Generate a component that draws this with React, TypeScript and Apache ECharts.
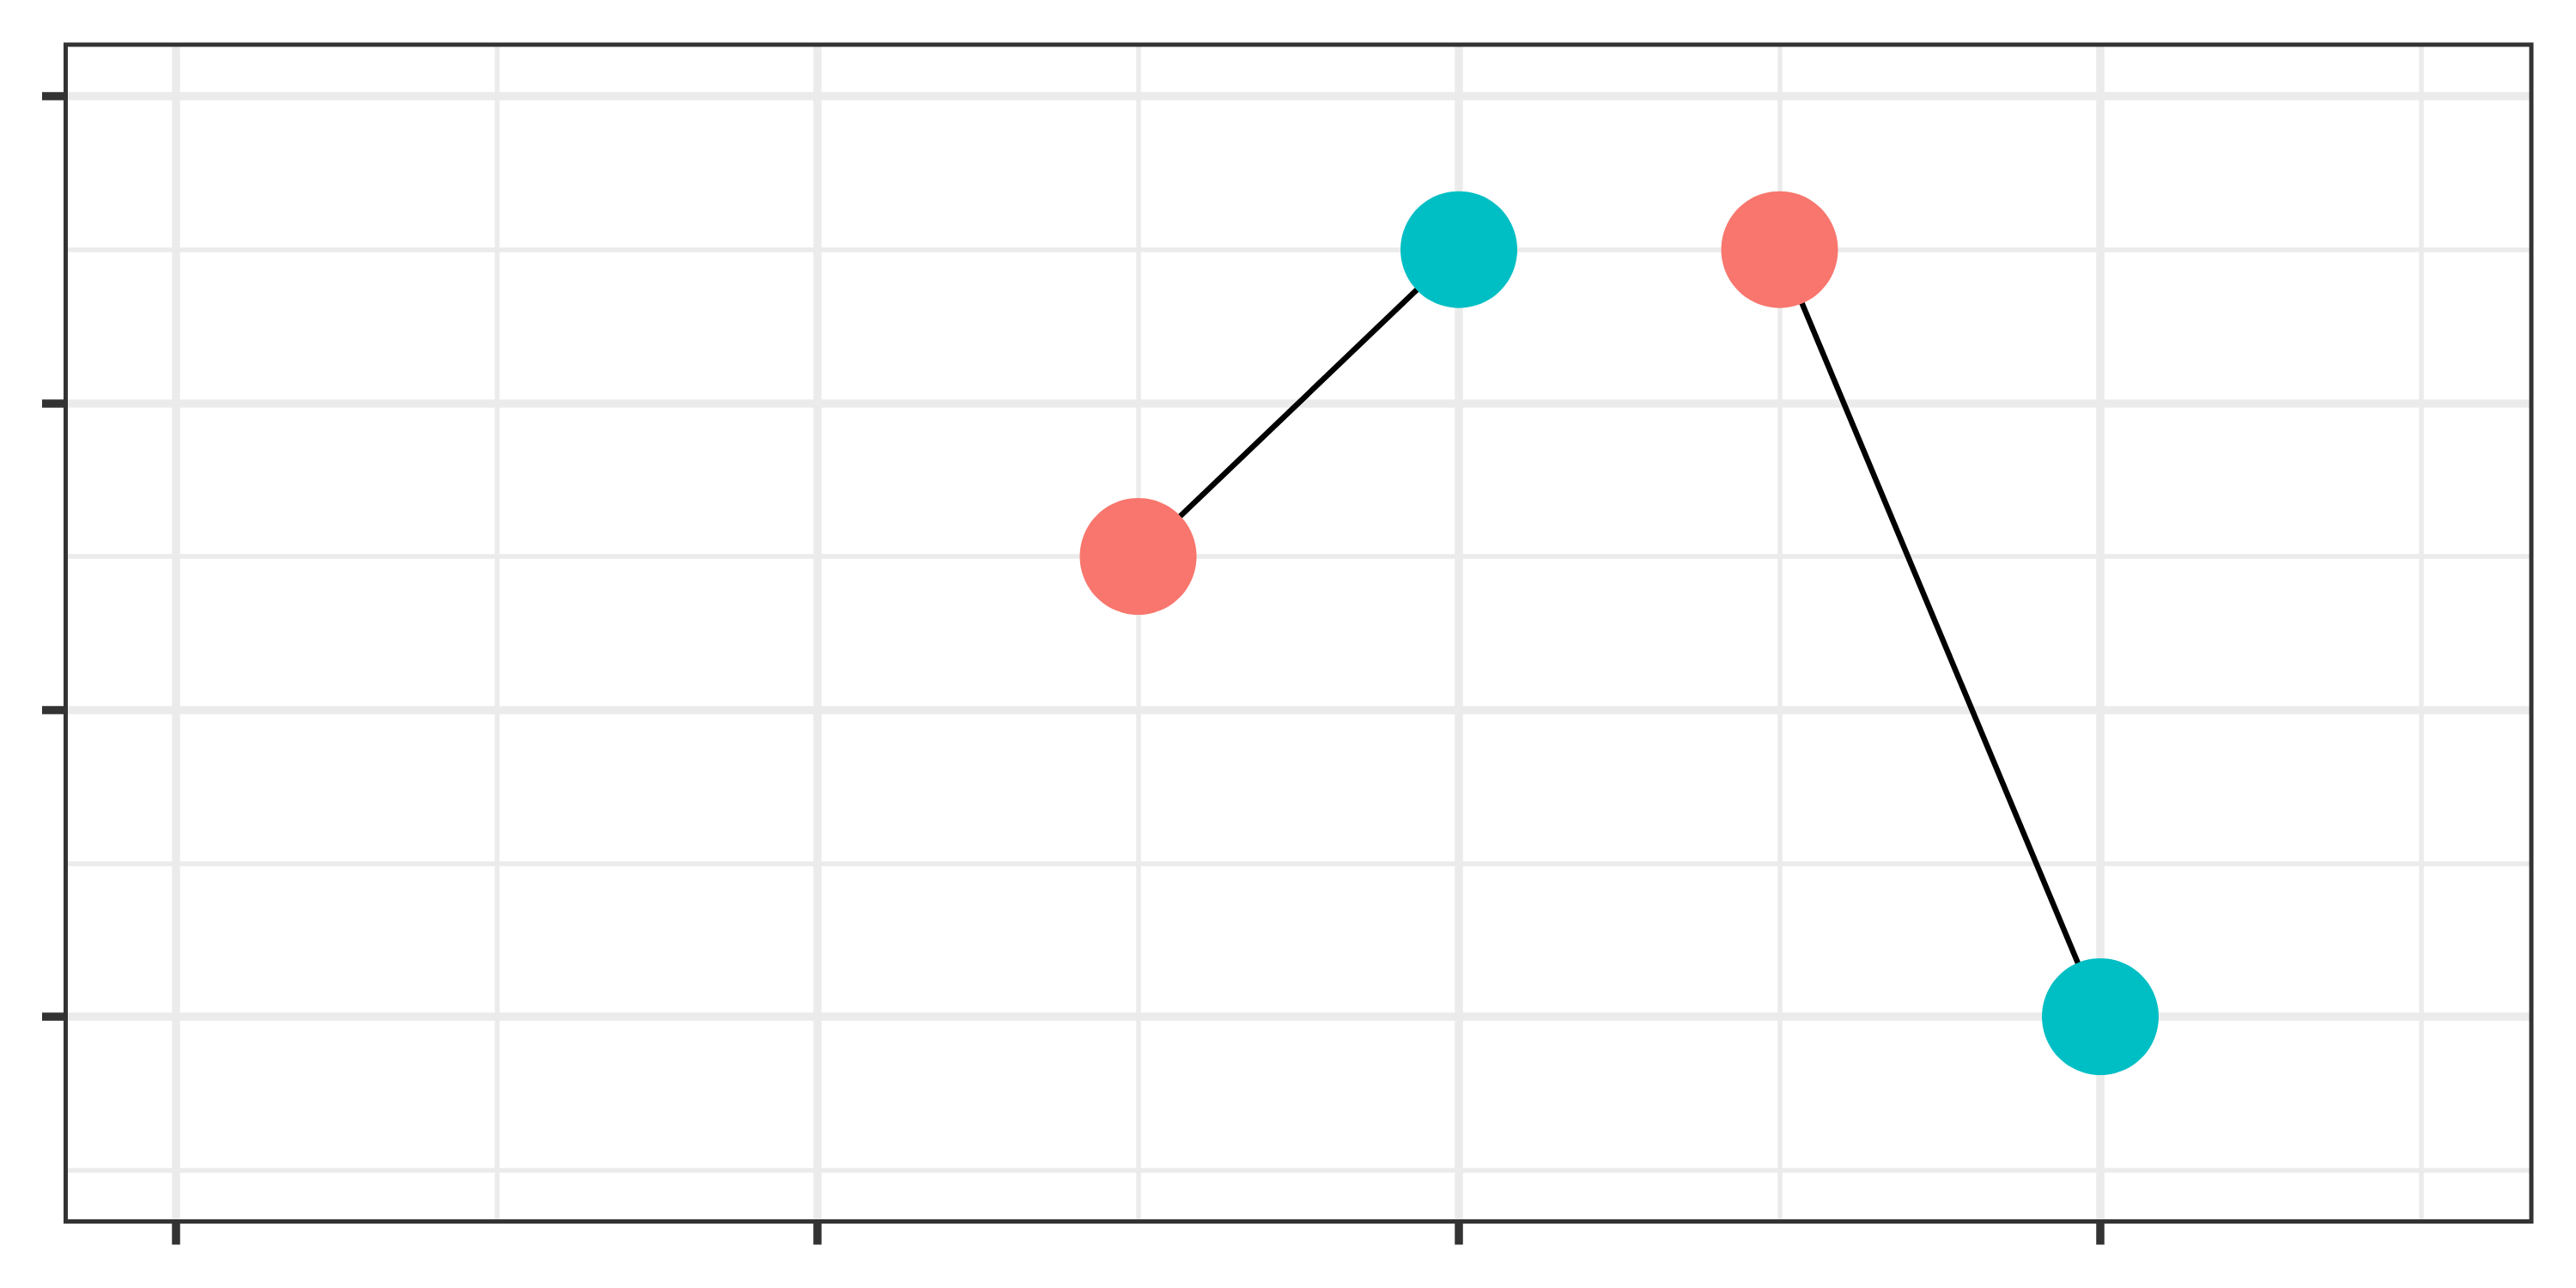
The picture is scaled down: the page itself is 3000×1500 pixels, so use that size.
import React, { useEffect, useRef } from "react";
import * as echarts from "echarts";

// Axis tick / grid values
const xMajor = [0, 1, 2, 3];
const xMinor = [0.5, 1.5, 2.5, 3.5];
const yMajor = [0, 1, 2, 3];
const yMinor = [-0.5, 0.5, 1.5, 2.5];

// Data: each segment goes from a red start point to a teal end point
const startPoints = [
  [1.5, 1.5],
  [2.5, 2.5],
];
const endPoints = [
  [2, 2.5],
  [3, 0],
];

const X_MIN = -0.172;
const X_MAX = 3.672;
const Y_MIN = -0.6675;
const Y_MAX = 3.168;

const RED = "#F8766D";
const TEAL = "#00BFC4";

export default function App() {
  const ref = useRef<HTMLDivElement>(null);

  useEffect(() => {
    if (!ref.current) return;
    const chart = echarts.init(ref.current, undefined, { renderer: "svg" });
    const gridLeft = 76.5;
    const gridTop = 52;
    const gridRight = 52;
    const gridBottom = 77.5;
    const W = 3000;
    const H = 1500;

    const minorStyle = { color: "#EBEBEB", width: 5.5, type: "solid" };
    const majorStyle = { color: "#EBEBEB", width: 9.5, type: "solid" };

    const gridLineData: any[] = [
      ...xMinor.map((v) => ({ xAxis: v, lineStyle: minorStyle })),
      ...yMinor.map((v) => ({ yAxis: v, lineStyle: minorStyle })),
      ...xMajor.map((v) => ({ xAxis: v, lineStyle: majorStyle })),
      ...yMajor.map((v) => ({ yAxis: v, lineStyle: majorStyle })),
    ];

    const segmentSeries = startPoints.map((s, i) => ({
      type: "line",
      data: [s, endPoints[i]],
      symbol: "none",
      lineStyle: { color: "#000000", width: 6.5 },
      z: 3,
      silent: true,
    }));

    chart.setOption({
      animation: false,
      backgroundColor: "#FFFFFF",
      grid: {
        left: gridLeft,
        top: gridTop,
        right: gridRight,
        bottom: gridBottom,
        containLabel: false,
      },
      xAxis: {
        type: "value",
        min: X_MIN,
        max: X_MAX,
        z: 50,
        axisLine: { show: false, onZero: false },
        axisLabel: { show: false },
        splitLine: { show: false },
        axisTick: {
          show: true,
          length: 27,
          customValues: xMajor,
          lineStyle: { color: "#333333", width: 9.5 },
        },
      },
      yAxis: {
        type: "value",
        min: Y_MIN,
        max: Y_MAX,
        z: 50,
        axisLine: { show: false, onZero: false },
        axisLabel: { show: false },
        splitLine: { show: false },
        axisTick: {
          show: true,
          length: 27.5,
          customValues: yMajor,
          lineStyle: { color: "#333333", width: 9.5 },
        },
      },
      series: [
        {
          type: "line",
          data: [],
          z: 0,
          silent: true,
          markLine: {
            silent: true,
            symbol: ["none", "none"],
            label: { show: false },
            z: 1,
            animation: false,
            data: gridLineData,
          },
        },
        ...segmentSeries,
        {
          type: "scatter",
          data: startPoints,
          symbol: "circle",
          symbolSize: 136,
          itemStyle: { color: RED, opacity: 1 },
          z: 4,
        },
        {
          type: "scatter",
          data: endPoints,
          symbol: "circle",
          symbolSize: 136,
          itemStyle: { color: TEAL, opacity: 1 },
          z: 4,
        },
      ],
      graphic: [
        {
          type: "rect",
          z: 100,
          silent: true,
          shape: {
            x: gridLeft,
            y: gridTop,
            width: W - gridLeft - gridRight,
            height: H - gridTop - gridBottom,
          },
          style: { fill: "none", stroke: "#333333", lineWidth: 5 },
        },
      ],
    });

    return () => chart.dispose();
  }, []);

  return (
    <div
      ref={ref}
      style={{ position: "absolute", left: 0, top: 0, width: 3000, height: 1500 }}
    />
  );
}
